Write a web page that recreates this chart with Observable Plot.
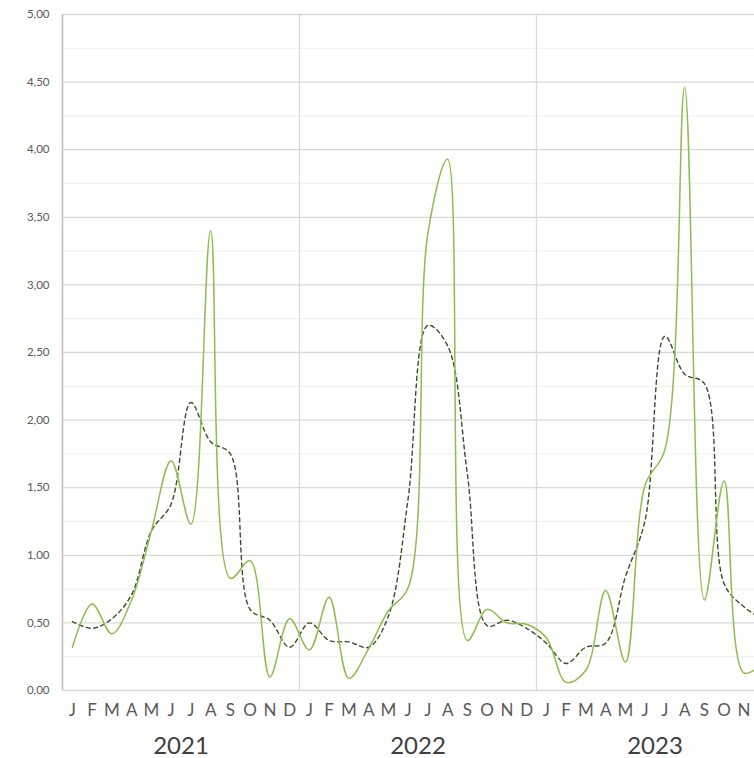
<!DOCTYPE html>
<html>
<head>
<meta charset="utf-8">
<script src="https://cdn.jsdelivr.net/npm/d3@7"></script>
<script src="https://cdn.jsdelivr.net/npm/@observablehq/plot@0.6"></script>
<style>
  html, body { margin: 0; padding: 0; background: #fff; overflow: hidden; width: 754px; height: 758px; }
  #chart { width: 754px; height: 758px; overflow: hidden; }
  #chart svg { display: block; max-width: none !important; }
</style>
</head>
<body>
<div id="chart"></div>
<script>
const monthLetters = ["J","F","M","A","M","J","J","A","S","O","N","D"];
const years = ["2021","2022","2023"];
const yTicks = [0, 0.5, 1, 1.5, 2, 2.5, 3, 3.5, 4, 4.5, 5];
const yMinor = [0.25, 0.75, 1.25, 1.75, 2.25, 2.75, 3.25, 3.75, 4.25, 4.75];

// solid green series (monthly, Jan 2021 .. Dec 2023)
const greenValues = [
  0.32, 0.64, 0.42, 0.67, 1.18, 1.70, 1.23, 3.40, 0.83, 0.96, 0.10, 0.53,
  0.30, 0.69, 0.09, 0.31, 0.59, 0.76, 3.38, 3.93, 0.37, 0.60, 0.50, 0.49,
  0.39, 0.06, 0.15, 0.74, 0.21, 1.52, 1.78, 4.46, 0.67, 1.55, 0.13, 0.20
];
// dashed dark series
const dashedValues = [
  0.51, 0.46, 0.53, 0.71, 1.18, 1.38, 2.13, 1.84, 1.75, 0.60, 0.52, 0.32,
  0.50, 0.37, 0.36, 0.32, 0.55, 1.42, 2.70, 2.55, 1.60, 0.48, 0.52, 0.46,
  0.35, 0.20, 0.32, 0.35, 0.84, 1.26, 2.62, 2.34, 2.27, 0.79, 0.62, 0.52
];

const nMonths = greenValues.length;
const green = greenValues.map((v, i) => ({i: i + 0.5, v}));
const dashed = dashedValues.map((v, i) => ({i: i + 0.5, v}));
const monthLabels = d3.range(nMonths).map(i => ({i: i + 0.5, t: monthLetters[i % 12]}));
const yearLabels = years.map((y, k) => ({i: 12 * k + 6, t: y}));
const fmt = v => d3.format(".2f")(v).replace(".", ",");

const FONT = "Lato, 'Open Sans', sans-serif";

const chart = Plot.plot({
  width: 790,
  height: 758,
  marginLeft: 62,
  marginRight: 17,
  marginTop: 14,
  marginBottom: 68,
  style: {fontFamily: FONT, background: "#fff", maxWidth: "none"},
  x: {domain: [0, 36], axis: null},
  y: {domain: [0, 5], axis: null},
  marks: [
    Plot.ruleY(yMinor, {stroke: "#f2f2f2", strokeWidth: 1.3}),
    Plot.ruleY(yTicks, {stroke: "#d9d9d9", strokeWidth: 1.3}),
    Plot.ruleX([12, 24], {stroke: "#d9d9d9", strokeWidth: 1.3}),
    Plot.ruleX([0], {stroke: "#bfbfbf", strokeWidth: 1.6}),
    Plot.text(yTicks, {x: 0, y: d => d, text: d => fmt(d), textAnchor: "end", dx: -13, fill: "#595959", fontSize: 11.5}),
    Plot.text(monthLabels, {x: "i", y: 0, text: "t", dy: 20, fill: "#595959", fontSize: 17}),
    Plot.text(yearLabels, {x: "i", y: 0, text: "t", dy: 56, fill: "#404040", fontSize: 24}),
    Plot.line(dashed, {x: "i", y: "v", curve: "catmull-rom", stroke: "#3b4f27", strokeWidth: 1.4, strokeDasharray: "4,3.5"}),
    Plot.line(green, {x: "i", y: "v", curve: "catmull-rom", stroke: "#8fbc4c", strokeWidth: 1.5})
  ]
});
document.getElementById("chart").appendChild(chart);
</script>
</body>
</html>
